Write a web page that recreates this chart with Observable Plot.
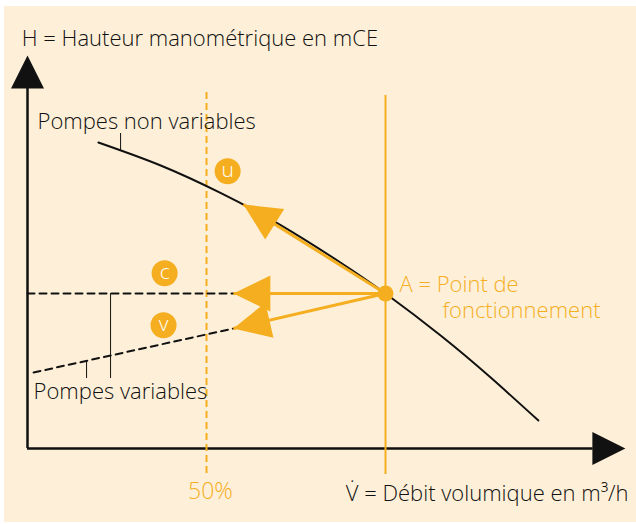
<!DOCTYPE html>
<html>
<head>
<meta charset="utf-8">
<script src="https://cdn.jsdelivr.net/npm/d3@7"></script>
<script src="https://cdn.jsdelivr.net/npm/@observablehq/plot@0.6"></script>
<style>
  body { margin: 0; background: #ffffff; }
  #bg { position: absolute; left: 4px; top: 6px; width: 632px; height: 516px; background: #FEF0D8; }
  #chart { position: absolute; left: 0; top: 0; }
</style>
</head>
<body>
<div id="bg"></div>
<div id="chart"></div>
<script>
// ---- data (schematic units: flow in % of nominal, head in arbitrary units) ----
const fixedFlow = [19.8, 37.2, 53.9, 70.7, 87.4, 100, 115.4, 129.3, 142.7];
const fixedHead = [76.5, 70.75, 63.9, 55.85, 46.5, 38.75, 28.25, 17.8, 7];
const constFlow = [0, 57.5];
const constHead = [38.75, 38.75];
const varFlow = [1.7, 57.5];
const varHead = [19, 30];
const pointA = [100, 38.75];
const tipFlow = [60.3, 57.5, 57.5];
const tipHead = [61, 38.75, 30];
const badgeLetters = ["u", "c", "v"];
const badgeFlow = [55.9, 38.3, 38];
const badgeHead = [69.3, 43.8, 30.8];
const halfFlow = 50;

const ORANGE = "#F5AE1F";
const INK = "#111111";
const FONT = "Open Sans";

const xDom = [0, 100], xRange = [27, 385];
const yDom = [0, 100], yRange = [448, 48];
const sx = Plot.scale({x: {domain: xDom, range: xRange}});
const sy = Plot.scale({y: {domain: yDom, range: yRange}});

const fixedCurve = fixedFlow.map((x, i) => ({x, y: fixedHead[i]}));
const constLine = constFlow.map((x, i) => ({x, y: constHead[i]}));
const varLine = varFlow.map((x, i) => ({x, y: varHead[i]}));
const arrows = tipFlow.map((x, i) => {
  const y = tipHead[i];
  const dx = sx.apply(x) - sx.apply(pointA[0]);
  const dy = sy.apply(y) - sy.apply(pointA[1]);
  return {x, y, x1: pointA[0], y1: pointA[1], rotate: Math.atan2(dx, -dy) * 180 / Math.PI};
});
const badges = badgeLetters.map((t, i) => ({t, x: badgeFlow[i], y: badgeHead[i]}));

const triangle = {
  draw(ctx, l, r) {
    ctx.moveTo(0, -l);
    ctx.lineTo(r, 0);
    ctx.lineTo(-r, 0);
    ctx.closePath();
  }
};

const txt = {textAnchor: "start", lineAnchor: "bottom", fontSize: 22, fontWeight: 300};

const chart = Plot.plot({
  width: 636,
  height: 524,
  margin: 0,
  x: {domain: xDom, range: xRange, axis: null},
  y: {domain: yDom, range: yRange, axis: null},
  style: {background: "transparent", fontFamily: FONT, overflow: "visible"},
  marks: [
    // axes
    Plot.ruleX([0], {y1: 0, y2: 90, stroke: INK, strokeWidth: 2.5}),
    Plot.ruleY([0], {x1: 0, x2: 158, stroke: INK, strokeWidth: 2.5}),
    Plot.vector([{x: 0, y: 98.25}], {x: "x", y: "y", rotate: 0, length: 33, r: 16.5, anchor: "end", shape: triangle, fill: INK, stroke: "none"}),
    Plot.vector([{x: 167, y: 0}], {x: "x", y: "y", rotate: 90, length: 33, r: 16.5, anchor: "end", shape: triangle, fill: INK, stroke: "none"}),
    // vertical references
    Plot.ruleX([halfFlow], {y1: 89, y2: -6.5, stroke: ORANGE, strokeWidth: 2, strokeDasharray: "7,4"}),
    Plot.ruleX([pointA[0]], {y1: 88.25, y2: -6.5, stroke: ORANGE, strokeWidth: 2}),
    // pump curves
    Plot.line(constLine, {x: "x", y: "y", stroke: INK, strokeWidth: 2, strokeDasharray: "7,5"}),
    Plot.line(varLine, {x: "x", y: "y", stroke: INK, strokeWidth: 2, strokeDasharray: "7,5"}),
    Plot.line(fixedCurve, {x: "x", y: "y", stroke: INK, strokeWidth: 2, curve: "natural"}),
    // label leader ticks
    Plot.ruleX([26], {y1: 78.75, y2: 74.3, stroke: INK, strokeWidth: 1}),
    Plot.ruleX([16.5], {y1: 17.5, y2: 21.9, stroke: INK, strokeWidth: 1}),
    Plot.ruleX([23.2], {y1: 17.5, y2: 38.75, stroke: INK, strokeWidth: 1}),
    // arrows
    Plot.link(arrows, {x1: "x1", y1: "y1", x2: "x", y2: "y", stroke: ORANGE, strokeWidth: 3}),
    Plot.vector(arrows, {x: "x", y: "y", rotate: "rotate", length: 37, r: 18, anchor: "end", shape: triangle, fill: ORANGE, stroke: "none"}),
    Plot.dot([{x: pointA[0], y: pointA[1]}], {x: "x", y: "y", r: 8, fill: ORANGE}),
    // badges
    Plot.dot(badges, {x: "x", y: "y", r: 13, fill: ORANGE}),
    Plot.text(badges, {x: "x", y: "y", text: "t", fill: "#ffffff", fontSize: 21, fontWeight: 300, dy: -1}),
    // texts
    Plot.text(["H = Hauteur manométrique en mCE"], {...txt, x: -1.6, y: 100.75, fill: INK}),
    Plot.text(["Pompes non variables"], {...txt, x: 2.8, y: 80, fill: INK}),
    Plot.text(["Pompes variables"], {...txt, x: 1.7, y: 12.5, fill: INK}),
    Plot.text(["A = Point de"], {...txt, x: 103.9, y: 39.25, fill: ORANGE}),
    Plot.text(["fonctionnement"], {...txt, x: 115.9, y: 32.75, fill: ORANGE}),
    Plot.text(["50%"], {...txt, x: 51.1, y: -12.5, textAnchor: "middle", fontSize: 23, fill: ORANGE}),
    Plot.text(["V\u0307 = Débit volumique en m³/h"], {...txt, x: 167.9, y: -13, textAnchor: "end", fill: INK})
  ]
});
document.getElementById("chart").appendChild(chart);
</script>
</body>
</html>
